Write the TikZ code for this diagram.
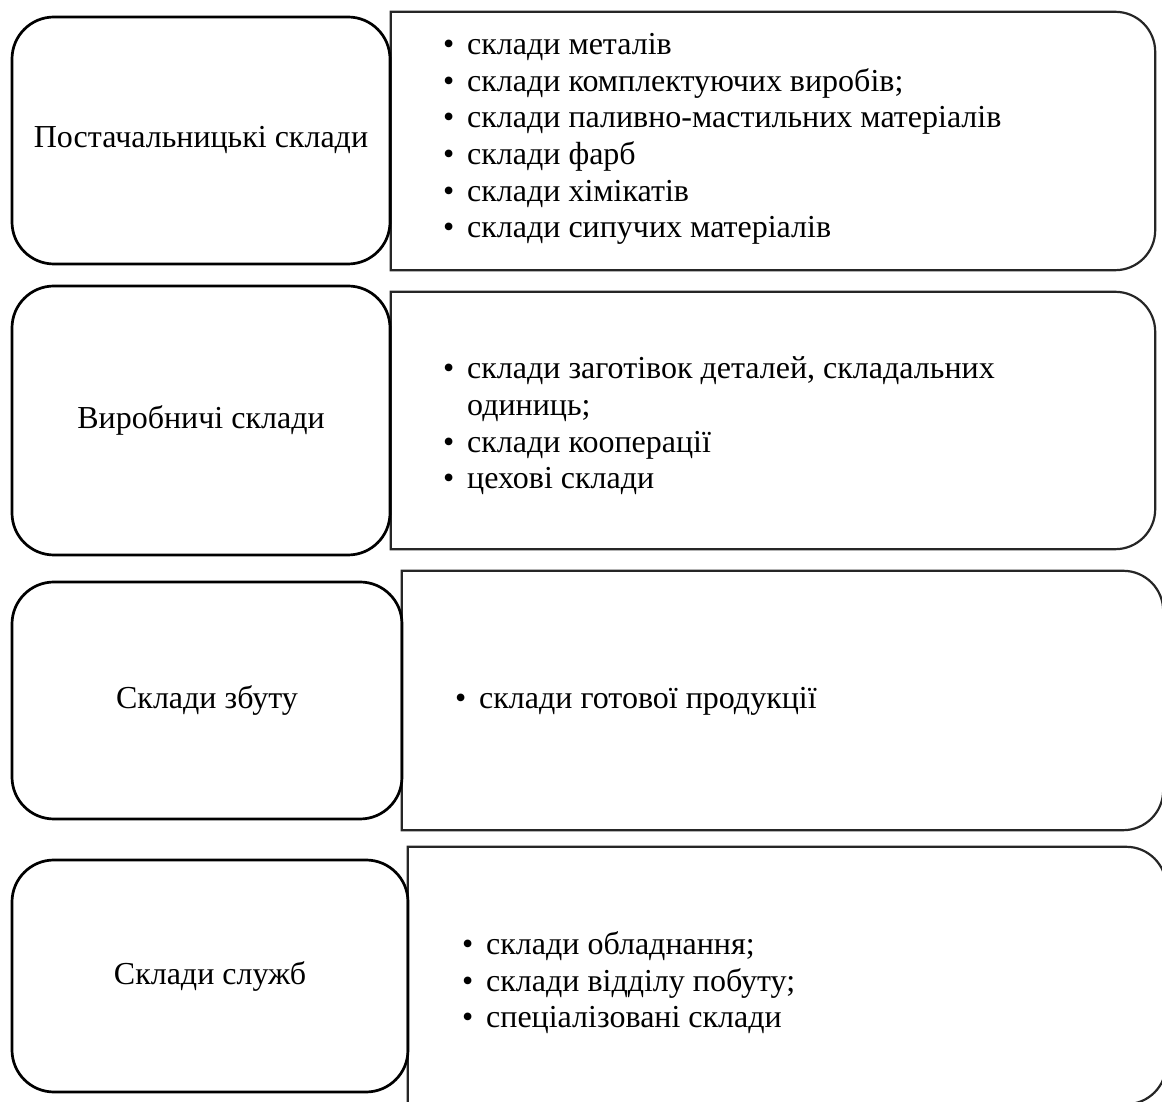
\documentclass[tikz,border=0pt]{standalone}
\usepackage{fontspec}
\setmainfont{Liberation Serif}

\newcommand{\itm}[1]{\makebox[24pt][l]{\textbullet}#1}
\newcommand{\cont}[1]{\hspace*{24pt}#1}

\begin{document}
\begin{tikzpicture}[x=1pt,y=1pt,
  every node/.style={font=\fontsize{32}{36.6}\selectfont},
  kind/.style={draw,line width=2.7pt,rounded corners=42pt,inner sep=0pt,align=center},
  group/.style={inner sep=0pt},
  frame/.style={line width=2.2pt,draw=black!85},
  items/.style={anchor=west,align=left,inner sep=0pt}]

\useasboundingbox (0,0) rectangle (1162,1101);
\clip (0,0) rectangle (1162,1101);

% frames on the right, rounded on the right side only
\foreach \id/\xl/\xr/\yb/\yt in {sup/391/1155/831/1089, prod/391/1155/552/809, sale/402/1163/271/530, serv/408/1166/-3/254}
{
  \pgfmathsetmacro{\w}{\xr-\xl}
  \pgfmathsetmacro{\h}{\yt-\yb}
  \node[group,minimum width=\w,minimum height=\h] (grp\id) at ({(\xl+\xr)/2},{(\yb+\yt)/2}) {};
  \draw[frame] (grp\id.south west) -- (grp\id.north west) -- ([xshift=-40pt]grp\id.north east)
    arc[start angle=90,end angle=0,radius=40pt] -- ([yshift=40pt]grp\id.south east)
    arc[start angle=0,end angle=-90,radius=40pt] -- cycle;
}

% kinds of warehouses
\foreach \id/\xr/\yb/\yt/\name in {sup/390/837/1084/{Постачальницькі склади}, prod/390/546/815/{Виробничі склади}, sale/402/282/519/{Склади збуту}, serv/408/9/241/{Склади служб}}
{
  \pgfmathsetmacro{\w}{\xr-12}
  \pgfmathsetmacro{\h}{\yt-\yb}
  \node[kind,minimum width=\w,minimum height=\h] (kind\id) at ({(12+\xr)/2},{(\yb+\yt)/2}) {\name};
}

\node[items] (lstsup) at (443,962) {\itm{склади металів}\\
  \itm{склади комплектуючих виробів;}\\
  \itm{склади паливно-мастильних матеріалів}\\
  \itm{склади фарб}\\
  \itm{склади хімікатів}\\
  \itm{склади сипучих матеріалів}};

\node[items] (lstprod) at (443,675) {\itm{склади заготівок деталей, складальних}\\
  \cont{одиниць;}\\
  \itm{склади кооперації}\\
  \itm{цехові склади}};

\node[items] (lstsale) at (455,400) {\itm{склади готової продукції}};

\node[items] (lstserv) at (462,118) {\itm{склади обладнання;}\\
  \itm{склади відділу побуту;}\\
  \itm{спеціалізовані склади}};

\end{tikzpicture}
\end{document}
